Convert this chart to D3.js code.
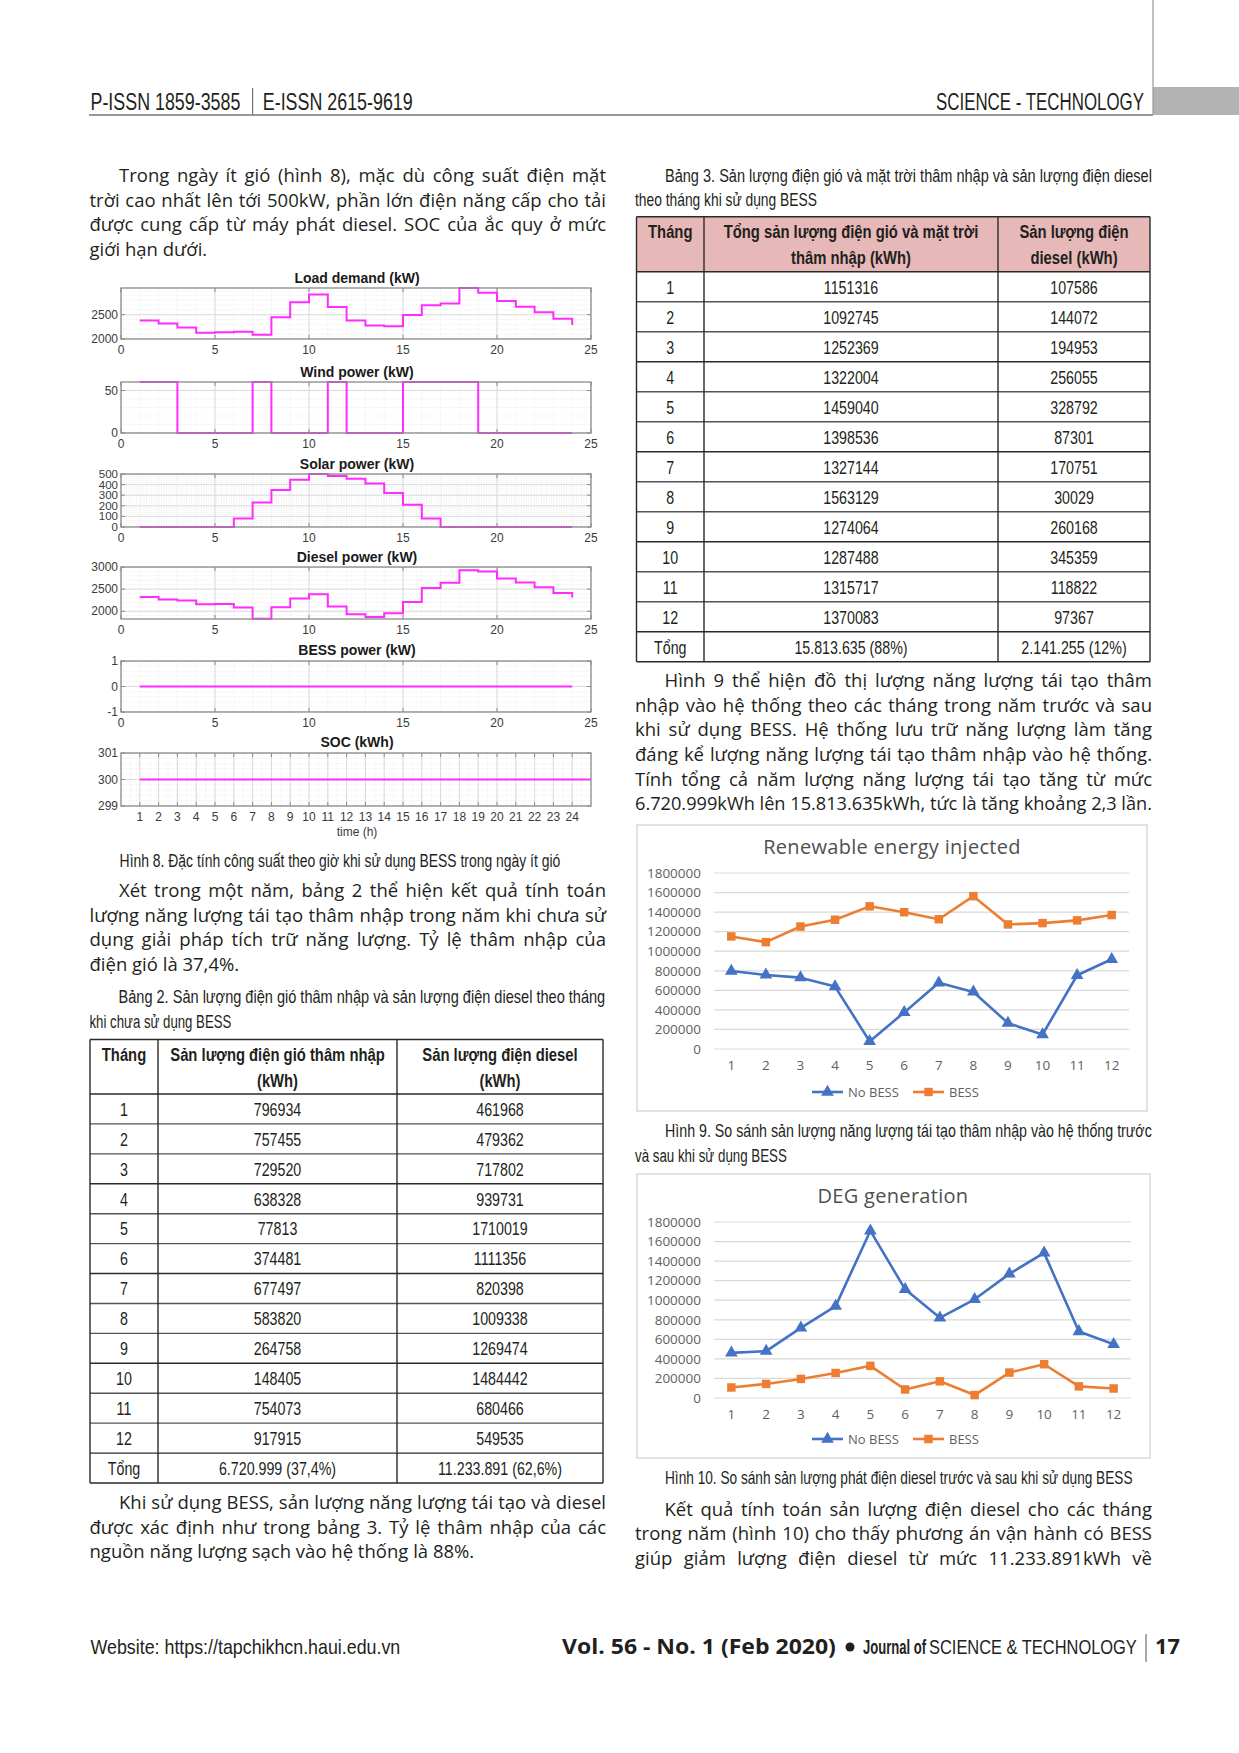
<!DOCTYPE html>
<html><head><meta charset="utf-8">
<script src="https://cdn.jsdelivr.net/npm/d3@7"></script>
<style>
body{margin:0;background:#fff}
.body{font-family:"Open Sans","Noto Sans",sans-serif;font-size:18.5px;fill:#231f20}
</style>
</head><body>
<svg id="page" width="1239" height="1753" xmlns="http://www.w3.org/2000/svg"></svg>
<script>
// ---------------- DATA ----------------
const hours = [1,2,3,4,5,6,7,8,9,10,11,12,13,14,15,16,17,18,19,20,21,22,23,24];
const loadDemand = [2380,2320,2235,2130,2140,2150,2085,2450,2755,2915,2660,2380,2280,2265,2495,2695,2730,3050,2950,2780,2665,2550,2415,2290];
const windPower  = [60,60,0,0,0,0,60,0,0,0,60,0,0,0,60,60,60,60,0,0,0,0,0,0];
const solarPower = [0,0,0,0,0,80,230,350,445,500,480,455,410,320,210,80,0,0,0,0,0,0,0,0];
const dieselPower= [2320,2265,2245,2160,2165,2085,1830,2090,2290,2385,2105,1935,1870,1955,2210,2525,2645,2925,2900,2740,2650,2545,2410,2310];
const bessPower  = [0,0,0,0,0,0,0,0,0,0,0,0,0,0,0,0,0,0,0,0,0,0,0,0];
const socHours   = [1,2,3,4,5,6,7,8,9,10,11,12,13,14,15,16,17,18,19,20,21,22,23,24,25];
const socValues  = [300,300,300,300,300,300,300,300,300,300,300,300,300,300,300,300,300,300,300,300,300,300,300,300,300];
const hourTicks5 = [0,5,10,15,20,25];
const hourTicks1 = [1,2,3,4,5,6,7,8,9,10,11,12,13,14,15,16,17,18,19,20,21,22,23,24];

const months = ['1','2','3','4','5','6','7','8','9','10','11','12'];
const windNoBess   = [796934,757455,729520,638328,77813,374481,677497,583820,264758,148405,754073,917915];
const dieselNoBess = [461968,479362,717802,939731,1710019,1111356,820398,1009338,1269474,1484442,680466,549535];
const renewBess    = [1151316,1092745,1252369,1322004,1459040,1398536,1327144,1563129,1274064,1287488,1315717,1370083];
const dieselBess   = [107586,144072,194953,256055,328792,87301,170751,30029,260168,345359,118822,97367];
const totals2 = ['6.720.999 (37,4%)','11.233.891 (62,6%)'];
const totals3 = ['15.813.635 (88%)','2.141.255 (12%)'];
const excelTicks = [0,200000,400000,600000,800000,1000000,1200000,1400000,1600000,1800000];
const seriesNames = ['No BESS','BESS'];

// ---------------- HELPERS ----------------
const svg = d3.select('#page');
svg.append('rect').attr('width',1239).attr('height',1753).attr('fill','#fff');

function bodyLine(str, x0, x1, y, justify){
  const t = svg.append('text').attr('class','body').attr('x',x0).attr('y',y).text(str);
  const L = t.node().getComputedTextLength();
  const W = x1 - x0;
  const n = (str.match(/ /g)||[]).length;
  if (L > W) { t.attr('textLength', W).attr('lengthAdjust','spacingAndGlyphs'); }
  else if (justify && n>0) t.style('word-spacing', ((W-L)/n)+'px');
}
function para(lines, x0, x1, indent, y0, lh, lastJustify){
  lines.forEach((s,i)=>{
    const last = i===lines.length-1;
    bodyLine(s, i===0 ? x0+indent : x0, x1, y0 + i*lh, !last || lastJustify);
  });
}
function condText(str, x, y, o){
  o = o||{};
  const g = svg.append('g');
  const t = g.append('text')
    .attr('font-family', o.family || 'Liberation Sans, Arial, sans-serif')
    .attr('font-size', o.size||18)
    .attr('font-weight', o.weight||'normal')
    .attr('text-anchor', o.anchor||'start')
    .attr('fill', o.fill||'#231f20')
    .text(str);
  let sx = o.sx || 0.74;
  if (o.width) sx = o.width / t.node().getComputedTextLength();
  g.attr('transform', `translate(${x},${y}) scale(${sx},1)`);
  return g;
}

// ---------------- HEADER ----------------
condText('P-ISSN 1859-3585', 90.5, 110, {size:24, width:150});
svg.append('line').attr('x1',252.7).attr('x2',252.7).attr('y1',88).attr('y2',115).attr('stroke','#555').attr('stroke-width',1);
condText('E-ISSN 2615-9619', 262.8, 110, {size:24, width:150});
condText('SCIENCE - TECHNOLOGY', 936, 110, {size:24, width:208});
svg.append('rect').attr('x',1153).attr('y',87).attr('width',86).attr('height',28).attr('fill','#b3b3b3');
svg.append('line').attr('x1',89).attr('x2',1153).attr('y1',115).attr('y2',115).attr('stroke','#777').attr('stroke-width',1.5);
svg.append('line').attr('x1',1153).attr('x2',1153).attr('y1',0).attr('y2',115).attr('stroke','#999').attr('stroke-width',1.2);

// ---------------- LEFT COLUMN TEXT ----------------
const LX0 = 89.5, LX1 = 606, RX0 = 635, RX1 = 1152, IND = 29.5, LH = 24.65;
para(['Trong ngày ít gió (hình 8), mặc dù công suất điện mặt',
      'trời cao nhất lên tới 500kW, phần lớn điện năng cấp cho tải',
      'được cung cấp từ máy phát diesel. SOC của ắc quy ở mức',
      'giới hạn dưới.'], LX0, LX1, IND, 182, LH, false);

// ---------------- FIGURE 8 (MATLAB subplots) ----------------
const mx = d3.scaleLinear().domain([0,25]).range([121,591]);
const magenta = '#ff2bff';
function subplot(c){
  const y = d3.scaleLinear().domain(c.domain).range([c.bottom, c.top]);
  const g = svg.append('g');
  const clipId = 'clip'+Math.round(c.top);
  g.append('clipPath').attr('id',clipId).append('rect')
    .attr('x',mx(0)).attr('y',c.top).attr('width',mx(25)-mx(0)).attr('height',c.bottom-c.top);
  const grid = g.append('g').attr('clip-path',`url(#${clipId})`);
  const xMinor = d3.range(0,25.001,c.xMinor||1);
  grid.selectAll('.xm').data(xMinor).join('line')
    .attr('x1',d=>mx(d)).attr('x2',d=>mx(d)).attr('y1',c.top).attr('y2',c.bottom)
    .attr('stroke','#e6e6e6').attr('stroke-dasharray','1,1.5').attr('stroke-width',0.8);
  const yMinor = d3.range(c.domain[0] - (c.domain[0]%c.yMinor), c.domain[1]+1e-9, c.yMinor);
  grid.selectAll('.ym').data(yMinor).join('line')
    .attr('x1',mx(0)).attr('x2',mx(25)).attr('y1',d=>y(d)).attr('y2',d=>y(d))
    .attr('stroke','#e6e6e6').attr('stroke-dasharray','1,1.5').attr('stroke-width',0.8);
  grid.selectAll('.xg').data(c.xTicks).join('line')
    .attr('x1',d=>mx(d)).attr('x2',d=>mx(d)).attr('y1',c.top).attr('y2',c.bottom)
    .attr('stroke','#dadada').attr('stroke-width',1);
  grid.selectAll('.yg').data(c.yTicks).join('line')
    .attr('x1',mx(0)).attr('x2',mx(25)).attr('y1',d=>y(d)).attr('y2',d=>y(d))
    .attr('stroke','#dadada').attr('stroke-width',1);
  const tk = g.append('g').attr('stroke','#8a8a8a').attr('stroke-width',1);
  c.xTicks.forEach(d=>{
    tk.append('line').attr('x1',mx(d)).attr('x2',mx(d)).attr('y1',c.bottom).attr('y2',c.bottom-4);
    tk.append('line').attr('x1',mx(d)).attr('x2',mx(d)).attr('y1',c.top).attr('y2',c.top+4);
  });
  c.yTicks.forEach(d=>{
    tk.append('line').attr('x1',mx(0)).attr('x2',mx(0)+4).attr('y1',y(d)).attr('y2',y(d));
    tk.append('line').attr('x1',mx(25)).attr('x2',mx(25)-4).attr('y1',y(d)).attr('y2',y(d));
  });
  const pts = c.x.map((h,i)=>[h, c.values[i]]);
  g.append('path').datum(pts)
    .attr('d', d3.line().x(d=>mx(d[0])).y(d=>y(d[1])).curve(c.step ? d3.curveStepAfter : d3.curveLinear))
    .attr('fill','none').attr('stroke',magenta).attr('stroke-width',2);
  g.append('rect').attr('x',mx(0)).attr('y',c.top).attr('width',mx(25)-mx(0)).attr('height',c.bottom-c.top)
    .attr('fill','none').attr('stroke','#8a8a8a').attr('stroke-width',1.3);
  const lab = g.append('g').attr('font-family','Liberation Sans, Arial, sans-serif').attr('font-size',12).attr('fill','#3a3a3a');
  lab.selectAll('.yl').data(c.yTicks).join('text')
    .attr('x',mx(0)-3).attr('y',d=>y(d)).attr('dy','0.35em').attr('text-anchor','end')
    .attr('font-size', c.ySize||12).text(d=>d);
  lab.selectAll('.xl').data(c.xTicks).join('text')
    .attr('x',d=>mx(d)).attr('y',c.bottom+11).attr('dy','0.35em').attr('text-anchor','middle').text(d=>d);
  g.append('text').attr('x',357).attr('y',c.titleY).attr('dy','0.35em').attr('text-anchor','middle')
    .attr('font-family','Liberation Sans, Arial, sans-serif').attr('font-size',14).attr('font-weight','bold')
    .attr('fill','#1a1a1a').text(c.title);
}
subplot({title:'Load demand (kW)', titleY:278, top:288, bottom:339, domain:[2000,3050], yTicks:[2000,2500], yMinor:100, xTicks:hourTicks5, x:hours, values:loadDemand, step:true});
subplot({title:'Wind power (kW)', titleY:372, top:382, bottom:433, domain:[0,60], yTicks:[0,50], yMinor:10, xTicks:hourTicks5, x:hours, values:windPower, step:true});
subplot({title:'Solar power (kW)', titleY:464, top:474, bottom:527, domain:[0,500], yTicks:[0,100,200,300,400,500], yMinor:20, ySize:11.5, xTicks:hourTicks5, x:hours, values:solarPower, step:true});
subplot({title:'Diesel power (kW)', titleY:557, top:567, bottom:619, domain:[1825,3000], yTicks:[2000,2500,3000], yMinor:100, xTicks:hourTicks5, x:hours, values:dieselPower, step:true});
subplot({title:'BESS power (kW)', titleY:650, top:661, bottom:712, domain:[-1,1], yTicks:[-1,0,1], yMinor:0.2, xTicks:hourTicks5, x:hours, values:bessPower, step:true});
subplot({title:'SOC (kWh)', titleY:742, top:753, bottom:806, domain:[299,301], yTicks:[299,300,301], yMinor:0.2, xTicks:hourTicks1, xMinor:0.5, x:socHours, values:socValues, step:false});
svg.append('text').attr('x',357).attr('y',832).attr('dy','0.35em').attr('text-anchor','middle')
  .attr('font-family','Liberation Sans, Arial, sans-serif').attr('font-size',12).attr('fill','#3a3a3a').text('time (h)');

condText('Hình 8. Đặc tính công suất theo giờ khi sử dụng BESS trong ngày ít gió', 119.6, 867, {size:18, width:441});

para(['Xét trong một năm, bảng 2 thể hiện kết quả tính toán',
      'lượng năng lượng tái tạo thâm nhập trong năm khi chưa sử',
      'dụng giải pháp tích trữ năng lượng. Tỷ lệ thâm nhập của',
      'điện gió là 37,4%.'], LX0, LX1, IND, 897, LH, false);

condText('Bảng 2. Sản lượng điện gió thâm nhập và sản lượng điện diesel theo tháng', 118.5, 1003, {size:18, width:487});
condText('khi chưa sử dụng BESS', 89.5, 1028, {size:18, width:142});

// ---------------- TABLES ----------------
function table(c){
  const g = svg.append('g');
  const nRows = months.length + 1;
  const rh = (c.bottom - c.hdrBottom)/nRows;
  if (c.fill) g.append('rect').attr('x',c.cols[0]).attr('y',c.top).attr('width',c.cols[3]-c.cols[0]).attr('height',c.hdrBottom-c.top).attr('fill',c.fill);
  c.header.forEach((lines,ci)=>{
    const cx = (c.cols[ci]+c.cols[ci+1])/2;
    lines.forEach((s,li)=>{
      condText(s, cx, c.top + 21.5 + li*25.5, {size:19, weight:'bold', anchor:'middle', sx:0.78});
    });
  });
  const rows = months.map((m,i)=>[m, String(c.a[i]), String(c.b[i])]);
  rows.push(['Tổng', c.totals[0], c.totals[1]]);
  rows.forEach((r,ri)=>{
    const cy = c.hdrBottom + rh*(ri+0.5);
    r.forEach((s,ci)=>{
      const cx = (c.cols[ci]+c.cols[ci+1])/2;
      condText(s, cx, cy+6.8, {size:19, anchor:'middle', sx:0.75});
    });
  });
  const ln = g.append('g').attr('stroke','#2a2a2a').attr('stroke-width',1.4);
  d3.range(nRows).forEach(i=>{
    const yy = c.hdrBottom + rh*i;
    ln.append('line').attr('x1',c.cols[0]).attr('x2',c.cols[3]).attr('y1',yy).attr('y2',yy).attr('stroke', i%3===0?'#2a2a2a':'#555');
  });
  [c.top, c.bottom].forEach(yy=>ln.append('line').attr('x1',c.cols[0]).attr('x2',c.cols[3]).attr('y1',yy).attr('y2',yy));
  c.cols.forEach(xx=>ln.append('line').attr('x1',xx).attr('x2',xx).attr('y1',c.top).attr('y2',c.bottom));
}
table({cols:[90,158,397,603], top:1039.5, hdrBottom:1094, bottom:1483,
  header:[['Tháng'],['Sản lượng điện gió thâm nhập','(kWh)'],['Sản lượng điện diesel','(kWh)']],
  a:windNoBess, b:dieselNoBess, totals:totals2});
table({cols:[636.5,704,998,1150], top:216.7, hdrBottom:271.7, bottom:661.7, fill:'#e6b9b8',
  header:[['Tháng'],['Tổng sản lượng điện gió và mặt trời','thâm nhập (kWh)'],['Sản lượng điện','diesel (kWh)']],
  a:renewBess, b:dieselBess, totals:totals3});

para(['Khi sử dụng BESS, sản lượng năng lượng tái tạo và diesel',
      'được xác định như trong bảng 3. Tỷ lệ thâm nhập của các',
      'nguồn năng lượng sạch vào hệ thống là 88%.'], LX0, LX1, IND, 1509, LH, false);

// ---------------- RIGHT COLUMN TEXT ----------------
condText('Bảng 3. Sản lượng điện gió và mặt trời thâm nhập và sản lượng điện diesel', 665, 181.5, {size:18, width:487});
condText('theo tháng khi sử dụng BESS', 635, 206, {size:18, width:182});

para(['Hình 9 thể hiện đồ thị lượng năng lượng tái tạo thâm',
      'nhập vào hệ thống theo các tháng trong năm trước và sau',
      'khi sử dụng BESS. Hệ thống lưu trữ năng lượng làm tăng',
      'đáng kể lượng năng lượng tái tạo thâm nhập vào hệ thống.',
      'Tính tổng cả năm lượng năng lượng tái tạo tăng từ mức',
      '6.720.999kWh lên 15.813.635kWh, tức là tăng khoảng 2,3 lần.'], RX0, RX1, IND, 687, LH, true);

// ---------------- EXCEL CHARTS ----------------
const blue = '#4472c4', orange = '#ed7d31';
function excelChart(c){
  const g = svg.append('g');
  g.append('rect').attr('x',c.bx0).attr('y',c.by0).attr('width',c.bx1-c.bx0).attr('height',c.by1-c.by0)
    .attr('fill','#fff').attr('stroke','#d9d9d9').attr('stroke-width',1.5);
  g.append('text').attr('x',c.titleX).attr('y',c.titleY).attr('dy','0.35em').attr('text-anchor','middle')
    .attr('font-family','Open Sans, sans-serif').attr('font-size',20).attr('letter-spacing',0.3)
    .attr('fill','#505050').text(c.title);
  const x = d3.scaleBand().domain(months).range([c.px0,c.px1]);
  const y = d3.scaleLinear().domain([0,1800000]).range([c.py0,c.py1]);
  g.selectAll('.gl').data(excelTicks).join('line')
    .attr('x1',c.px0).attr('x2',c.px1).attr('y1',d=>y(d)).attr('y2',d=>y(d))
    .attr('stroke','#d9d9d9').attr('stroke-width',1.2);
  g.selectAll('.yl').data(excelTicks).join('text')
    .attr('x',c.px0-13).attr('y',d=>y(d)).attr('dy','0.35em').attr('text-anchor','end')
    .attr('font-family','Open Sans, sans-serif').attr('font-size',13.5).attr('fill','#5f5f5f').text(d3.format('d'));
  g.selectAll('.xl').data(months).join('text')
    .attr('x',d=>x(d)+x.bandwidth()/2).attr('y',c.py0+16).attr('dy','0.35em').attr('text-anchor','middle')
    .attr('font-family','Open Sans, sans-serif').attr('font-size',13.5).attr('fill','#5f5f5f').text(d=>d);
  const series = [{v:c.s1, col:blue, sym:d3.symbolTriangle, size:70},{v:c.s2, col:orange, sym:d3.symbolSquare, size:72}];
  series.forEach(s=>{
    const pts = months.map((m,i)=>[x(m)+x.bandwidth()/2, y(s.v[i])]);
    g.append('path').datum(pts).attr('d',d3.line()).attr('fill','none').attr('stroke',s.col).attr('stroke-width',2.6).attr('stroke-linejoin','round');
    g.selectAll(null).data(pts).join('path').attr('transform',d=>`translate(${d[0]},${d[1]})`)
      .attr('d',d3.symbol(s.sym, s.size)).attr('fill',s.col);
  });
  const lg = [{x:812, col:blue, sym:d3.symbolTriangle, size:70, name:seriesNames[0]},
              {x:913, col:orange, sym:d3.symbolSquare, size:72, name:seriesNames[1]}];
  lg.forEach(l=>{
    g.append('line').attr('x1',l.x).attr('x2',l.x+31).attr('y1',c.legY).attr('y2',c.legY).attr('stroke',l.col).attr('stroke-width',2.6);
    g.append('path').attr('transform',`translate(${l.x+15.5},${c.legY})`).attr('d',d3.symbol(l.sym,l.size)).attr('fill',l.col);
    g.append('text').attr('x',l.x+36).attr('y',c.legY).attr('dy','0.35em')
      .attr('font-family','Open Sans, sans-serif').attr('font-size',13).attr('fill','#5f5f5f').text(l.name);
  });
}
excelChart({bx0:637,by0:825,bx1:1147,by1:1111,title:'Renewable energy injected',titleX:892,titleY:847,
  px0:714,px1:1129,py0:1049,py1:873,legY:1092,s1:windNoBess,s2:renewBess});
condText('Hình 9. So sánh sản lượng năng lượng tái tạo thâm nhập vào hệ thống trước', 665, 1137, {size:18, width:487});
condText('và sau khi sử dụng BESS', 635, 1162, {size:18, width:152});

excelChart({bx0:637,by0:1174,bx1:1150,by1:1458,title:'DEG generation',titleX:893,titleY:1196,
  px0:714,px1:1131,py0:1398,py1:1222,legY:1439,s1:dieselNoBess,s2:dieselBess});
condText('Hình 10. So sánh sản lượng phát điện diesel trước và sau khi sử dụng BESS', 665, 1484, {size:18, width:468});

para(['Kết quả tính toán sản lượng điện diesel cho các tháng',
      'trong năm (hình 10) cho thấy phương án vận hành có BESS',
      'giúp giảm lượng điện diesel từ mức 11.233.891kWh về'], RX0, RX1, IND, 1515.5, LH, true);

// ---------------- FOOTER ----------------
condText('Website: https://tapchikhcn.haui.edu.vn', 90.5, 1654, {size:21, width:310});
condText('Vol. 56 - No. 1 (Feb 2020)', 562, 1654, {size:21, weight:'bold', width:274, family:'Open Sans, sans-serif'});
svg.append('circle').attr('cx',850).attr('cy',1647).attr('r',4.5).attr('fill','#231f20');
condText('Journal of', 863, 1654, {size:21, weight:'bold', width:63});
condText('SCIENCE & TECHNOLOGY', 929, 1654, {size:21, width:208});
svg.append('line').attr('x1',1146).attr('x2',1146).attr('y1',1634).attr('y2',1662).attr('stroke','#555').attr('stroke-width',1);
condText('17', 1155, 1654, {size:21, weight:'bold', width:25, family:'Open Sans, sans-serif'});
</script>
</body></html>
